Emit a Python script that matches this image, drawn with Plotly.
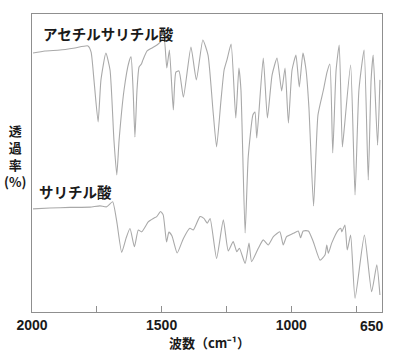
import plotly.graph_objects as go

# Acetylsalicylic acid (upper spectrum): wavenumber (cm-1), transmittance (arb. %)
asp_wn = [1996, 1950, 1892, 1834, 1784, 1772, 1761, 1745, 1734, 1715, 1699, 1684, 1673, 1664,
          1645, 1626, 1618, 1610, 1603, 1595, 1587, 1578, 1572, 1556, 1537, 1518, 1502, 1491,
          1480, 1470, 1455, 1445, 1433, 1416, 1387, 1366, 1341, 1321, 1302, 1288, 1271, 1259,
          1248, 1232, 1214, 1202, 1194, 1178, 1166, 1148, 1140, 1133, 1108, 1092, 1074, 1055,
          1037, 1024, 1011, 997, 982, 969, 955, 943, 932, 914, 897, 876, 862, 851, 840, 827,
          815, 803, 795, 771, 754, 739, 719, 703, 692, 684, 667, 658]
asp_t = [86.9, 87.6, 87.9, 88.6, 89.3, 87.2, 77.9, 63.8, 77.9, 86.9, 81.2, 57.7, 46.0, 57.7,
         74.5, 83.9, 85.6, 74.5, 58.7, 74.5, 82.2, 83.2, 84.6, 87.6, 88.6, 89.6, 90.9, 92.3,
         81.9, 87.9, 67.8, 80.5, 80.9, 72.1, 88.9, 77.9, 91.3, 86.2, 67.8, 55.4, 71.1, 81.2,
         84.6, 89.9, 65.1, 81.9, 74.5, 26.5, 52.0, 66.1, 67.1, 58.4, 85.2, 65.1, 79.5, 85.2,
         74.2, 81.9, 63.4, 81.2, 86.2, 75.5, 86.9, 81.2, 68.8, 35.6, 66.1, 74.5, 80.5, 83.2,
         53.4, 81.2, 89.6, 55.4, 62.1, 82.9, 39.3, 74.5, 87.9, 44.3, 77.9, 86.2, 56.0, 77.9]

# Salicylic acid (lower spectrum)
sal_wn = [1996, 1931, 1853, 1776, 1738, 1712, 1689, 1673, 1654, 1637, 1622, 1605, 1590, 1577,
          1551, 1532, 1519, 1504, 1494, 1481, 1472, 1460, 1440, 1416, 1391, 1378, 1352, 1337,
          1324, 1313, 1288, 1262, 1243, 1224, 1210, 1200, 1178, 1163, 1153, 1127, 1108, 1089,
          1069, 1044, 1031, 1018, 992, 973, 964, 954, 934, 915, 889, 870, 863, 857, 844, 819,
          809, 805, 793, 784, 771, 754, 718, 690, 670, 658]
sal_t = [34.6, 34.9, 35.1, 35.2, 35.6, 35.3, 37.0, 30.3, 20.0, 24.8, 28.0, 21.9, 27.5, 26.9,
         30.3, 31.4, 32.0, 33.7, 32.6, 23.5, 26.8, 25.5, 19.8, 24.7, 28.1, 27.5, 32.0, 31.4,
         29.8, 31.4, 18.0, 30.9, 20.5, 23.6, 20.2, 21.4, 16.3, 23.1, 16.9, 21.4, 24.2, 22.5,
         25.3, 26.9, 22.5, 25.3, 26.4, 27.2, 24.9, 27.2, 27.2, 23.6, 17.4, 19.1, 22.5, 19.7,
         23.1, 27.5, 28.1, 26.9, 29.2, 20.8, 25.8, 4.6, 25.8, 6.8, 15.8, 5.7]

tick_vals = [2000, 1750, 1500, 1250, 1000, 750]
tick_text = ["2000", "", "1500", "", "1000", ""]
end_label = "650"

series_names = ["アセチルサリチル酸", "サリチル酸"]
y_label_lines = ["透", "過", "率", "(%)"]
x_title = "波数（cm⁻¹）"

LINE = "#a9a9a9"
FRAME = "#8f8f8f"
TXT = "#1a1a1a"
JP = "Noto Sans CJK JP"
LAT = "Liberation Sans, Arial, sans-serif"

fig = go.Figure()
fig.add_trace(go.Scatter(x=asp_wn, y=asp_t, mode="lines",
                         line=dict(color=LINE, width=1.1, shape="spline", smoothing=0.5),
                         hoverinfo="skip"))
fig.add_trace(go.Scatter(x=sal_wn, y=sal_t, mode="lines",
                         line=dict(color=LINE, width=1.1, shape="spline", smoothing=0.5),
                         hoverinfo="skip"))

fig.update_layout(
    width=400, height=356,
    margin=dict(l=32, r=18, t=14, b=44),
    paper_bgcolor="white", plot_bgcolor="white",
    showlegend=False,
    font=dict(family=LAT, color=TXT),
)
fig.update_xaxes(range=[2000, 650], tickvals=tick_vals, ticktext=tick_text,
                 ticks="inside", ticklen=6, tickcolor=FRAME, tickwidth=1,
                 showline=True, linecolor=FRAME, linewidth=1.3, mirror=True,
                 showgrid=False, zeroline=False,
                 tickfont=dict(size=14, color=TXT, family=LAT, weight="bold"))
fig.update_yaxes(range=[0, 100], showticklabels=False, ticks="",
                 showline=True, linecolor=FRAME, linewidth=1.3, mirror=True,
                 showgrid=False, zeroline=False)

ann = []
ann.append(dict(text=end_label, x=650, xref="x", y=0, yref="paper", yanchor="top",
                xanchor="center", xshift=-10, yshift=-4, showarrow=False,
                font=dict(size=14, color=TXT, family=LAT, weight="bold")))
ann.append(dict(text=series_names[0], x=0.027, y=0.934, xref="paper", yref="paper",
                xanchor="left", yanchor="middle", showarrow=False,
                font=dict(size=14.5, color=TXT, family=JP, weight="bold")))
ann.append(dict(text=series_names[1], x=0.013, y=0.404, xref="paper", yref="paper",
                xanchor="left", yanchor="middle", showarrow=False,
                font=dict(size=14.5, color=TXT, family=JP, weight="bold")))
ann.append(dict(text="<br>".join(y_label_lines), x=-0.0486, y=0.522,
                xref="paper", yref="paper", xanchor="center", yanchor="middle",
                align="center", showarrow=False,
                font=dict(size=13, color=TXT, family=JP, weight="bold")))
ann.append(dict(text=x_title, x=0.506, y=-0.104, xref="paper", yref="paper",
                xanchor="center", yanchor="middle", showarrow=False,
                font=dict(size=13, color=TXT, family=JP, weight="bold")))
fig.update_layout(annotations=ann)

fig.write_html("out.html", config={"displayModeBar": False},
               post_script="document.body.style.margin='0';document.body.style.padding='0';")
